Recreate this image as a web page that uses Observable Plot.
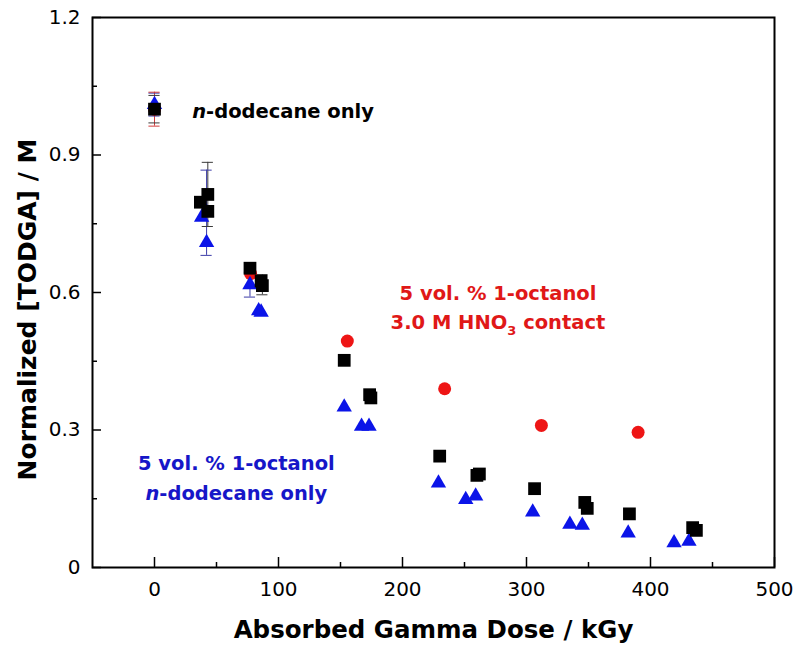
<!DOCTYPE html>
<html>
<head>
<meta charset="utf-8">
<script src="https://cdn.jsdelivr.net/npm/d3@7"></script>
<script src="https://cdn.jsdelivr.net/npm/@observablehq/plot@0.6"></script>
<style>
  html, body { margin: 0; padding: 0; background: #fff; }
  #chart svg { display: block; }
</style>
</head>
<body>
<div id="chart"></div>
<script>
// ---- Data ----
// n-dodecane only (black squares)
const blackDose = [0, 37, 43, 43, 77, 86, 87, 153, 173.5, 174.5, 230, 260, 262, 306.5, 347, 349, 383, 434, 437];
const blackVal  = [1.0, 0.797, 0.814, 0.777, 0.653, 0.625, 0.615, 0.452, 0.377, 0.370, 0.243, 0.201, 0.204, 0.172, 0.142, 0.129, 0.117, 0.087, 0.081];
// 5 vol.% 1-octanol, n-dodecane only (blue triangles)
const blueDose = [0, 38, 42, 42, 77, 84, 86, 153, 167, 173, 229, 251, 259, 305, 335, 345, 382, 419, 431];
const blueVal  = [1.01, 0.764, 0.775, 0.709, 0.617, 0.560, 0.557, 0.350, 0.308, 0.308, 0.184, 0.148, 0.156, 0.121, 0.094, 0.092, 0.075, 0.054, 0.057];
// 5 vol.% 1-octanol, 3.0 M HNO3 contact (red circles)
const redDose = [0, 77.5, 155.5, 234, 312, 390];
const redVal  = [1.0, 0.641, 0.494, 0.390, 0.310, 0.295];
// error bars
const errDose   = [0, 0, 0, 43, 42, 77, 87];
const errVal    = [1.0, 1.01, 1.0, 0.814, 0.774, 0.617, 0.617];
const errSize   = [0.03, 0.025, 0.037, 0.07, 0.093, 0.027, 0.022];
const errSeries = ["black", "blue", "red", "black", "blue", "blue", "black"];
// ticks
const xTicks = [0, 100, 200, 300, 400, 500];
const xMinorTicks = [50, 150, 250, 350, 450];
const yTicks = [0, 0.3, 0.6, 0.9, 1.2];
const yMinorTicks = [0.15, 0.45, 0.75, 1.05];
// text
const xLabel = "Absorbed Gamma Dose / kGy";
const yLabel = "Normalized [TODGA] / M";
const noteText  = ["n-dodecane only", "5 vol. % 1-octanol", "3.0 M HNO3 contact", "5 vol. % 1-octanol", "n-dodecane only "];
const noteDose  = [30.4, 277, 277, 66, 66];
const noteVal   = [0.9935, 0.597, 0.535, 0.226, 0.161];
const noteColor = ["black", "red", "red", "blue", "blue"];
const noteAnchor = ["start", "middle", "middle", "middle", "middle"];

// ---- Styles ----
const fill = {black: "#000000", blue: "#0b14e8", red: "#ee1515"};
const textFill = {black: "#000000", blue: "#1616c8", red: "#e01818"};
const errStroke = {black: "#3a3a3a", blue: "#3c3ca8", red: "#d03c3c"};
const capHalf = 4.5;

const toPts = (xs, ys) => xs.map((x, i) => ({x, y: ys[i]}));
const blackPts = toPts(blackDose, blackVal);
const bluePts = toPts(blueDose, blueVal);
const redPts = toPts(redDose, redVal);
const errs = errDose.map((x, i) => ({x, v: errVal[i], e: errSize[i], s: errSeries[i]}));
const notes = noteText.map((t, i) => ({t, x: noteDose[i], y: noteVal[i], c: noteColor[i], a: noteAnchor[i]}));

const noteMark = (n) => Plot.text([n], {
  x: "x", y: "y", text: "t", textAnchor: n.a,
  fill: textFill[n.c], fontWeight: "bold", fontSize: 19.5
});

const plot = Plot.plot({
  width: 796,
  height: 653,
  marginLeft: 92,
  marginRight: 22,
  marginTop: 17,
  marginBottom: 86,
  style: {fontFamily: "DejaVu Sans", fontSize: "20px", color: "black", background: "white"},
  x: {domain: [-50, 500]},
  y: {domain: [0, 1.2]},
  marks: [
    Plot.axisX(xTicks, {anchor: "bottom", tickSize: -10, tickPadding: 24, label: null, strokeWidth: 1.5, fontSize: 20}),
    Plot.axisX(xMinorTicks, {anchor: "bottom", tickSize: -5, tickFormat: () => "", label: null, strokeWidth: 1.5}),
    Plot.axisY(yTicks, {anchor: "left", tickSize: -9, tickPadding: 21, label: null, strokeWidth: 1.5, fontSize: 20,
      tickFormat: d => d === 0 ? "0" : d.toFixed(1)}),
    Plot.axisY(yMinorTicks, {anchor: "left", tickSize: -5, tickFormat: () => "", label: null, strokeWidth: 1.5}),
    // error bars
    Plot.ruleX(errs, {x: "x", y1: d => d.v - d.e, y2: d => d.v + d.e, stroke: d => errStroke[d.s], strokeWidth: 1}),
    Plot.ruleY(errs, {y: d => d.v + d.e, x1: d => d.x - capHalf, x2: d => d.x + capHalf, stroke: d => errStroke[d.s], strokeWidth: 1}),
    Plot.ruleY(errs, {y: d => d.v - d.e, x1: d => d.x - capHalf, x2: d => d.x + capHalf, stroke: d => errStroke[d.s], strokeWidth: 1}),
    // points
    Plot.dot(redPts, {x: "x", y: "y", r: 6.5, fill: fill.red, symbol: "circle"}),
    Plot.dot(bluePts, {x: "x", y: "y", r: 5.7, fill: fill.blue, symbol: "triangle"}),
    Plot.dot(blackPts, {x: "x", y: "y", r: 7.2, fill: fill.black, symbol: "square"}),
    // annotations
    ...notes.map(noteMark),
    // axis titles
    Plot.text([xLabel], {frameAnchor: "bottom", textAnchor: "middle", lineAnchor: "middle", dy: 63, fontWeight: "bold", fontSize: 24.5, fill: "black"}),
    Plot.text([yLabel], {frameAnchor: "left", textAnchor: "middle", lineAnchor: "middle", dx: -65, dy: 17, rotate: -90, fontWeight: "bold", fontSize: 25, fill: "black"}),
    Plot.frame({stroke: "black", strokeWidth: 2})
  ]
});

// rich text: italic "n" and subscript "3"
d3.select(plot).selectAll("text").each(function () {
  const t = this.textContent;
  const el = d3.select(this);
  if (t === "n-dodecane only" || t === "n-dodecane only ") {
    el.text(null);
    el.append("tspan").attr("font-style", "italic").text("n");
    el.append("tspan").text("-dodecane only");
  } else if (t === "3.0 M HNO3 contact") {
    el.text(null);
    el.append("tspan").text("3.0 M HNO");
    el.append("tspan").attr("font-size", 13).attr("dy", 6).text("3");
    el.append("tspan").attr("dy", -6).text(" contact");
  }
});

document.getElementById("chart").appendChild(plot);
</script>
</body>
</html>
